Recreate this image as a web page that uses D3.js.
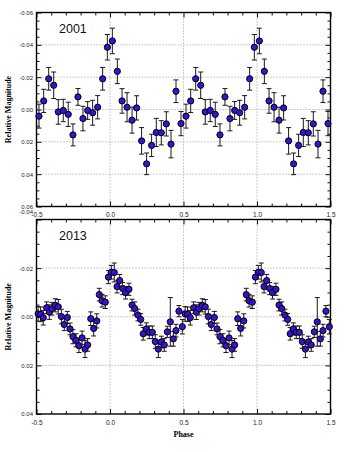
<!DOCTYPE html>
<html>
<head>
<meta charset="utf-8">
<script src="https://cdn.jsdelivr.net/npm/d3@7"></script>
<style>
  html, body { margin: 0; padding: 0; background: #fff; }
  svg { display: block; }
</style>
</head>
<body>
<svg id="chart" width="356" height="452"></svg>
<script>
// ---------- data (one cycle each, plotted twice over phase -0.5..1.5) ----------
const phase2001 = [-0.483,-0.451,-0.417,-0.383,-0.352,-0.318,-0.284,-0.252,-0.218,-0.184,-0.152,-0.118,-0.084,-0.050,-0.018,0.016,0.050,0.082,0.116,0.150,0.181,0.215,0.249,0.283,0.315,0.349,0.383,0.415,0.449,0.483];
const mag2001 = [0.0041,-0.0053,-0.0190,-0.0150,0.0015,0.0006,0.0030,0.0157,-0.0078,0.0056,0.0006,0.0020,-0.0014,-0.0190,-0.0385,-0.0424,-0.0236,-0.0053,-0.0014,0.0066,-0.0010,0.0194,0.0336,0.0222,0.0142,0.0144,0.0089,0.0214,-0.0113,0.0087];
const err2001 = [0.0074,0.0072,0.0070,0.0082,0.0076,0.0069,0.0075,0.0068,0.0052,0.0076,0.0055,0.0077,0.0072,0.0070,0.0079,0.0079,0.0076,0.0076,0.0090,0.0080,0.0075,0.0082,0.0067,0.0069,0.0087,0.0075,0.0075,0.0085,0.0070,0.0075];

const phase2013 = [-0.489,-0.472,-0.454,-0.431,-0.413,-0.395,-0.372,-0.352,-0.331,-0.311,-0.290,-0.272,-0.252,-0.231,-0.211,-0.190,-0.170,-0.152,-0.131,-0.111,-0.090,-0.073,-0.054,-0.032,-0.011,0.009,0.029,0.048,0.066,0.086,0.106,0.129,0.150,0.168,0.190,0.209,0.226,0.247,0.267,0.288,0.308,0.329,0.349,0.369,0.390,0.410,0.431,0.449,0.469,0.492];
const mag2013 = [-0.0012,-0.0010,0.0004,-0.0037,-0.0019,-0.0033,-0.0047,-0.0041,-0.0001,0.0032,0.0003,0.0050,0.0082,0.0097,0.0119,0.0087,0.0133,0.0116,0.0008,0.0048,0.0017,-0.0091,-0.0066,-0.0060,-0.0163,-0.0183,-0.0182,-0.0124,-0.0149,-0.0116,-0.0099,-0.0113,-0.0048,-0.0034,-0.0007,0.0011,0.0070,0.0050,0.0064,0.0064,0.0102,0.0133,0.0104,0.0116,0.0062,0.0021,0.0091,0.0057,-0.0023,0.0041];
const err2013 = [0.0030,0.0030,0.0030,0.0024,0.0030,0.0026,0.0027,0.0030,0.0030,0.0025,0.0025,0.0024,0.0029,0.0027,0.0028,0.0028,0.0035,0.0026,0.0028,0.0031,0.0029,0.0026,0.0026,0.0026,0.0027,0.0028,0.0039,0.0026,0.0025,0.0025,0.0026,0.0025,0.0024,0.0027,0.0024,0.0024,0.0026,0.0025,0.0026,0.0026,0.0028,0.0035,0.0024,0.0026,0.0023,0.0100,0.0030,0.0026,0.0023,0.0030];

const cycleShifts = [0, 1];

const xTickValues = [-0.5, 0.0, 0.5, 1.0, 1.5];
const xTickLabels = ["-0.5", "0.0", "0.5", "1.0", "1.5"];
const yTickValues2001 = [-0.06, -0.04, -0.02, 0.00, 0.02, 0.04, 0.06];
const yTickLabels2001 = ["-0.06", "-0.04", "-0.02", "0.00", "0.02", "0.04", "0.06"];
const yTickValues2013 = [-0.04, -0.02, 0.00, 0.02, 0.04];
const yTickLabels2013 = ["-0.04", "-0.02", "0.00", "0.02", "0.04"];
const panelTitles = ["2001", "2013"];
const xTitle = "Phase";
const yTitle = "Relative Magnitude";

// ---------- drawing ----------
const svg = d3.select("#chart");
const X0 = 36.5, X1 = 330.5;
const x = d3.scaleLinear().domain([-0.5, 1.5]).range([X0, X1]);

const panels = [
  { title: panelTitles[0], phase: phase2001, mag: mag2001, err: err2001,
    yDom: [-0.06, 0.06], yRange: [12.5, 206.5], yTicks: yTickValues2001, yLabels: yTickLabels2001 },
  { title: panelTitles[1], phase: phase2013, mag: mag2013, err: err2013,
    yDom: [-0.04, 0.04], yRange: [219.5, 414], yTicks: yTickValues2013, yLabels: yTickLabels2013 }
];

const tickFont = "Liberation Sans, Arial, sans-serif";
const titleFont = "Liberation Serif, Times New Roman, serif";

panels.forEach((p, pi) => {
  const y = d3.scaleLinear().domain(p.yDom).range(p.yRange);
  const top = p.yRange[0], bot = p.yRange[1];
  const g = svg.append("g");

  // grid
  const gridX = xTickValues.filter(v => v > -0.5 && v < 1.5);
  const gridY = p.yTicks.filter(v => v > p.yDom[0] && v < p.yDom[1]);
  g.selectAll(".gx").data(gridX).enter().append("line")
    .attr("x1", d => x(d)).attr("x2", d => x(d)).attr("y1", top).attr("y2", bot)
    .attr("stroke", "#9a9a9a").attr("stroke-width", 1).attr("stroke-dasharray", "1,2");
  g.selectAll(".gy").data(gridY).enter().append("line")
    .attr("x1", X0).attr("x2", X1).attr("y1", d => y(d)).attr("y2", d => y(d))
    .attr("stroke", "#9a9a9a").attr("stroke-width", 1).attr("stroke-dasharray", "1,2");

  // minor ticks
  const xMinor = d3.range(-5, 16).map(i => i / 10).filter(v => !xTickValues.some(t => Math.abs(t - v) < 1e-9));
  const nY = Math.round((p.yDom[1] - p.yDom[0]) / 0.005);
  const yMinor = d3.range(0, nY + 1).map(i => p.yDom[0] + i * 0.005).filter(v => !p.yTicks.some(t => Math.abs(t - v) < 1e-9));

  function styleAxis(sel) {
    sel.select(".domain").remove();
    sel.selectAll("line").attr("stroke", "#111").attr("stroke-width", 1);
    sel.selectAll("text").attr("fill", "#222").style("font-family", tickFont).style("font-size", "6.5px");
  }

  // bottom axis (labels)
  const axB = g.append("g").attr("transform", `translate(0,${bot})`)
    .call(d3.axisBottom(x).tickValues(xTickValues).tickSize(-5).tickPadding(6)
      .tickFormat((d, i) => xTickLabels[i]));
  styleAxis(axB);
  const axBm = g.append("g").attr("transform", `translate(0,${bot})`)
    .call(d3.axisBottom(x).tickValues(xMinor).tickSize(-3).tickFormat(""));
  styleAxis(axBm);
  // top axis
  const axT = g.append("g").attr("transform", `translate(0,${top})`)
    .call(d3.axisTop(x).tickValues(xTickValues).tickSize(-5).tickFormat(""));
  styleAxis(axT);
  const axTm = g.append("g").attr("transform", `translate(0,${top})`)
    .call(d3.axisTop(x).tickValues(xMinor).tickSize(-3).tickFormat(""));
  styleAxis(axTm);
  // left axis
  const axL = g.append("g").attr("transform", `translate(${X0},0)`)
    .call(d3.axisLeft(y).tickValues(p.yTicks).tickSize(-5).tickPadding(3.5)
      .tickFormat((d, i) => p.yLabels[i]));
  styleAxis(axL);
  axL.selectAll("text").style("font-size", "6px");
  if (pi === 1) {
    axL.selectAll(".tick").filter(d => d === p.yDom[0]).select("text").attr("dy", "-1.05em");
  }
  const axLm = g.append("g").attr("transform", `translate(${X0},0)`)
    .call(d3.axisLeft(y).tickValues(yMinor).tickSize(-3).tickFormat(""));
  styleAxis(axLm);
  // right axis
  const axR = g.append("g").attr("transform", `translate(${X1},0)`)
    .call(d3.axisRight(y).tickValues(p.yTicks).tickSize(-5).tickFormat(""));
  styleAxis(axR);
  const axRm = g.append("g").attr("transform", `translate(${X1},0)`)
    .call(d3.axisRight(y).tickValues(yMinor).tickSize(-3).tickFormat(""));
  styleAxis(axRm);

  // frame
  g.append("rect").attr("x", X0).attr("y", top).attr("width", X1 - X0).attr("height", bot - top)
    .attr("fill", "none").attr("stroke", "#000").attr("stroke-width", 1.4);

  // data (each cycle plotted twice)
  const pts = [];
  cycleShifts.forEach(s => {
    p.phase.forEach((ph, i) => {
      const v = ph + s;
      if (v >= -0.5 && v <= 1.5) pts.push({ ph: v, m: p.mag[i], e: p.err[i] });
    });
  });
  pts.sort((a, b) => a.ph - b.ph);

  const cap = 2.5;
  const pg = g.selectAll(".pt").data(pts).enter().append("g");
  pg.append("line")
    .attr("x1", d => x(d.ph)).attr("x2", d => x(d.ph))
    .attr("y1", d => y(d.m - d.e)).attr("y2", d => y(d.m + d.e))
    .attr("stroke", "#1a1a1a").attr("stroke-width", 1);
  pg.append("line")
    .attr("x1", d => x(d.ph) - cap).attr("x2", d => x(d.ph) + cap)
    .attr("y1", d => y(d.m - d.e)).attr("y2", d => y(d.m - d.e))
    .attr("stroke", "#1a1a1a").attr("stroke-width", 1);
  pg.append("line")
    .attr("x1", d => x(d.ph) - cap).attr("x2", d => x(d.ph) + cap)
    .attr("y1", d => y(d.m + d.e)).attr("y2", d => y(d.m + d.e))
    .attr("stroke", "#1a1a1a").attr("stroke-width", 1);
  pg.append("circle")
    .attr("cx", d => x(d.ph)).attr("cy", d => y(d.m)).attr("r", 3.1)
    .attr("fill", "#3c10d8").attr("stroke", "#000").attr("stroke-width", 1);

  // year label
  g.append("text").attr("x", 59).attr("y", top + 20.5)
    .style("font-family", tickFont).style("font-size", "12.5px").attr("fill", "#111")
    .text(p.title);

  // y title
  const cy = (top + bot) / 2;
  g.append("text").attr("transform", `translate(10.5,${cy}) rotate(-90)`)
    .attr("text-anchor", "middle")
    .style("font-family", titleFont).style("font-size", "8px").style("font-weight", "bold")
    .attr("fill", "#000").text(yTitle);
});

// x title
svg.append("text").attr("x", 183.5).attr("y", 437)
  .attr("text-anchor", "middle")
  .style("font-family", titleFont).style("font-size", "8px").style("font-weight", "bold")
  .attr("fill", "#000").text(xTitle);
</script>
</body>
</html>
